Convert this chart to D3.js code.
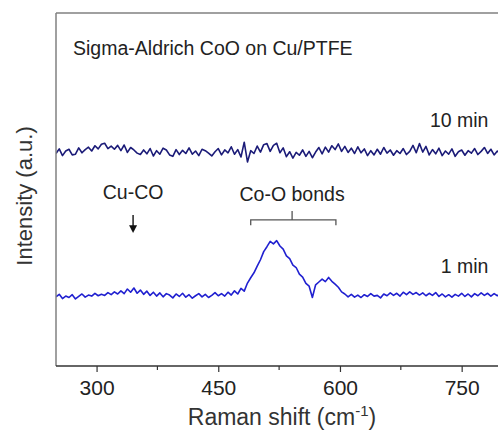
<!DOCTYPE html>
<html>
<head>
<meta charset="utf-8">
<script src="https://cdn.jsdelivr.net/npm/d3@7"></script>
<style>
  html, body { margin: 0; padding: 0; background: #fff; }
  svg { display: block; font-family: "Liberation Sans", Arial, sans-serif; }
</style>
</head>
<body>
<svg id="chart" width="498" height="432"></svg>
<script>
// Raman shift grid (cm^-1), sampled every 4 cm^-1
const shift = d3.range(250, 800, 4);

// Intensity after 10 min (a.u.)
const trace10min = [
  60.2, 61.5, 59.6, 60.9, 61.4, 59.8, 60.0, 61.8, 60.4, 61.3,
  62.0, 60.9, 62.4, 61.5, 62.8, 63.1, 61.6, 62.3, 61.4, 62.5,
  61.0, 62.6, 60.5, 61.9, 61.2, 60.3, 59.9, 61.2, 60.1, 61.6,
  59.5, 61.0, 60.0, 61.7, 61.2, 59.8, 59.4, 61.3, 59.9, 61.1,
  60.2, 61.8, 60.0, 60.9, 59.6, 61.4, 61.0, 60.3, 59.5, 60.7,
  61.6, 59.8, 61.2, 60.4, 62.1, 60.0, 61.3, 59.2, 63.4, 57.8,
  61.0, 60.2, 62.3, 60.6, 62.7, 63.0, 60.8, 62.5, 63.1, 60.4,
  61.8, 59.3, 60.7, 58.9, 60.5, 59.7, 61.2, 59.4, 60.8, 59.0,
  60.6, 61.9, 60.1, 62.0, 60.6, 62.4, 61.3, 62.9, 60.8, 62.2,
  60.5, 61.7, 60.2, 62.1, 60.4, 61.5, 59.6, 61.0, 59.8, 61.4,
  60.0, 61.9, 60.3, 61.2, 59.7, 61.0, 60.2, 61.6, 59.9, 60.8,
  62.5, 60.4, 63.0, 60.6, 62.2, 59.8, 61.3, 60.1, 61.7, 59.6,
  60.9, 60.0, 61.5, 59.4, 60.7, 61.2, 59.7, 61.0, 60.3, 61.6,
  59.9, 60.8, 61.9, 60.2, 61.4, 59.8, 60.9, 60.1
];

// Intensity after 1 min (a.u.)
const trace1min = [
  19.6, 20.3, 19.1, 19.8, 19.4, 20.2, 19.0, 19.7, 20.4, 19.5,
  20.1, 19.8, 20.6, 19.9, 20.3, 20.0, 20.8, 20.2, 21.0, 20.4,
  21.3, 20.5, 21.8, 20.9, 22.1, 20.6, 21.5, 20.3, 21.2, 20.0,
  20.9, 19.8, 20.7, 19.6, 20.5, 20.1, 19.3, 20.4, 19.7, 20.6,
  19.5, 20.2, 19.2, 19.9, 20.5, 19.6, 20.3, 19.4, 20.0, 20.8,
  19.9, 20.5, 19.8, 20.9, 20.1, 21.3, 20.4, 22.0, 21.2, 23.5,
  25.0, 26.4, 28.3, 30.1, 32.4, 33.8, 35.3, 34.6, 35.5, 34.0,
  33.1, 31.2, 30.4, 28.6, 27.9, 26.0, 25.2, 23.4, 22.6, 19.4,
  23.0, 23.8, 24.6, 23.9, 25.1, 24.0, 23.2, 22.3, 21.0, 20.4,
  19.6, 20.3, 19.5, 20.1, 19.4, 20.2, 19.7, 20.5, 19.8, 20.0,
  19.3, 20.4, 19.9, 20.7, 20.0, 20.6, 19.8, 20.9, 20.2, 21.0,
  20.3, 20.8, 20.1, 20.7, 19.9, 20.6, 20.0, 20.8, 19.7, 20.4,
  19.6, 20.2, 19.5, 20.3, 19.8, 20.6, 19.7, 20.4, 19.6, 20.5,
  19.9, 20.7, 20.0, 20.6, 19.8, 20.5, 19.9, 20.4
];

const majorTicks = [300, 450, 600, 750];
const minorTicks = [375, 525, 675];

const svg = d3.select("#chart");
const margin = { left: 56, top: 13, bottom: 66 };
const plotBottom = 432 - margin.bottom;

const x = d3.scaleLinear().domain([250, 800]).range([margin.left, margin.left + 550 * (121.7 / 150)]);
const y = d3.scaleLinear().domain([0, 100]).range([plotBottom, margin.top]);

svg.append("clipPath").attr("id", "plotClip")
  .append("rect")
  .attr("x", margin.left).attr("y", margin.top)
  .attr("width", 498 - margin.left).attr("height", plotBottom - margin.top);

// Spectra
const line = d3.line()
  .x((d, i) => x(shift[i]))
  .y(d => y(d));

const traces = svg.append("g").attr("clip-path", "url(#plotClip)");
traces.append("path")
  .datum(trace10min)
  .attr("fill", "none")
  .attr("stroke", "#1b1b78")
  .attr("stroke-width", 1.6)
  .attr("stroke-linejoin", "round")
  .attr("d", line);
traces.append("path")
  .datum(trace1min)
  .attr("fill", "none")
  .attr("stroke", "#2020d0")
  .attr("stroke-width", 1.6)
  .attr("stroke-linejoin", "round")
  .attr("d", line);

// Frame: top and left borders
svg.append("line")
  .attr("x1", margin.left).attr("x2", 498)
  .attr("y1", margin.top).attr("y2", margin.top)
  .attr("stroke", "#808080").attr("stroke-width", 1.5);
svg.append("line")
  .attr("x1", margin.left).attr("x2", margin.left)
  .attr("y1", margin.top).attr("y2", plotBottom)
  .attr("stroke", "#808080").attr("stroke-width", 1.5);

// Bottom axis
const xAxis = d3.axisBottom(x)
  .tickValues(majorTicks)
  .tickSize(6)
  .tickPadding(8)
  .tickFormat(d3.format("d"));
const gx = svg.append("g")
  .attr("transform", `translate(0,${plotBottom})`)
  .call(xAxis);
gx.select(".domain").remove();
gx.selectAll(".tick line").attr("stroke", "#333").attr("stroke-width", 1.2);
gx.selectAll(".tick text")
  .attr("fill", "#222")
  .style("font-size", "21px")
  .style("font-family", "Liberation Sans, Arial, sans-serif");

svg.append("line")
  .attr("x1", margin.left).attr("x2", 498)
  .attr("y1", plotBottom).attr("y2", plotBottom)
  .attr("stroke", "#333").attr("stroke-width", 1.5);

svg.append("g").selectAll("line")
  .data(minorTicks)
  .join("line")
  .attr("x1", d => x(d)).attr("x2", d => x(d))
  .attr("y1", plotBottom).attr("y2", plotBottom + 4)
  .attr("stroke", "#333").attr("stroke-width", 1.2);

// Axis titles
const xTitle = svg.append("text")
  .attr("x", 282)
  .attr("y", 425)
  .attr("text-anchor", "middle")
  .attr("fill", "#333")
  .style("font-size", "23px");
xTitle.append("tspan").text("Raman shift (cm");
xTitle.append("tspan").attr("dy", -9).style("font-size", "15px").text("-1");
xTitle.append("tspan").attr("dy", 9).text(")");

svg.append("text")
  .attr("transform", `translate(32,196) rotate(-90)`)
  .attr("text-anchor", "middle")
  .attr("fill", "#333")
  .style("font-size", "22px")
  .text("Intensity (a.u.)");

// Annotations
const annot = svg.append("g").attr("fill", "#222").style("font-size", "19.5px");
annot.append("text")
  .attr("x", x(271)).attr("y", y(88.1))
  .text("Sigma-Aldrich CoO on Cu/PTFE");
annot.append("text")
  .attr("x", x(783)).attr("y", y(67.7))
  .attr("text-anchor", "end")
  .text("10 min");
annot.append("text")
  .attr("x", x(783)).attr("y", y(26.3))
  .attr("text-anchor", "end")
  .text("1 min");

// Cu-CO marker
const cuco = 345;
annot.append("text")
  .attr("x", x(cuco)).attr("y", y(47.3))
  .attr("text-anchor", "middle")
  .text("Cu-CO");
svg.append("line")
  .attr("x1", x(cuco)).attr("x2", x(cuco))
  .attr("y1", y(42.8)).attr("y2", y(38.8))
  .attr("stroke", "#111").attr("stroke-width", 1.4);
svg.append("path")
  .attr("d", `M${x(cuco) - 4},${y(39.9)} L${x(cuco) + 4},${y(39.9)} L${x(cuco)},${y(37.7)} Z`)
  .attr("fill", "#111");

// Co-O bracket
const coLo = 490, coHi = 595, coMid = 541;
annot.append("text")
  .attr("x", x(coMid)).attr("y", y(46.7))
  .attr("text-anchor", "middle")
  .text("Co-O bonds");
svg.append("path")
  .attr("d", `M${x(coLo)},${y(39.9)} L${x(coLo)},${y(41.4)} L${x(coHi)},${y(41.4)} L${x(coHi)},${y(39.9)}` +
             ` M${x(coMid)},${y(41.4)} L${x(coMid)},${y(43.9)}`)
  .attr("fill", "none")
  .attr("stroke", "#555")
  .attr("stroke-width", 1.3);
</script>
</body>
</html>
